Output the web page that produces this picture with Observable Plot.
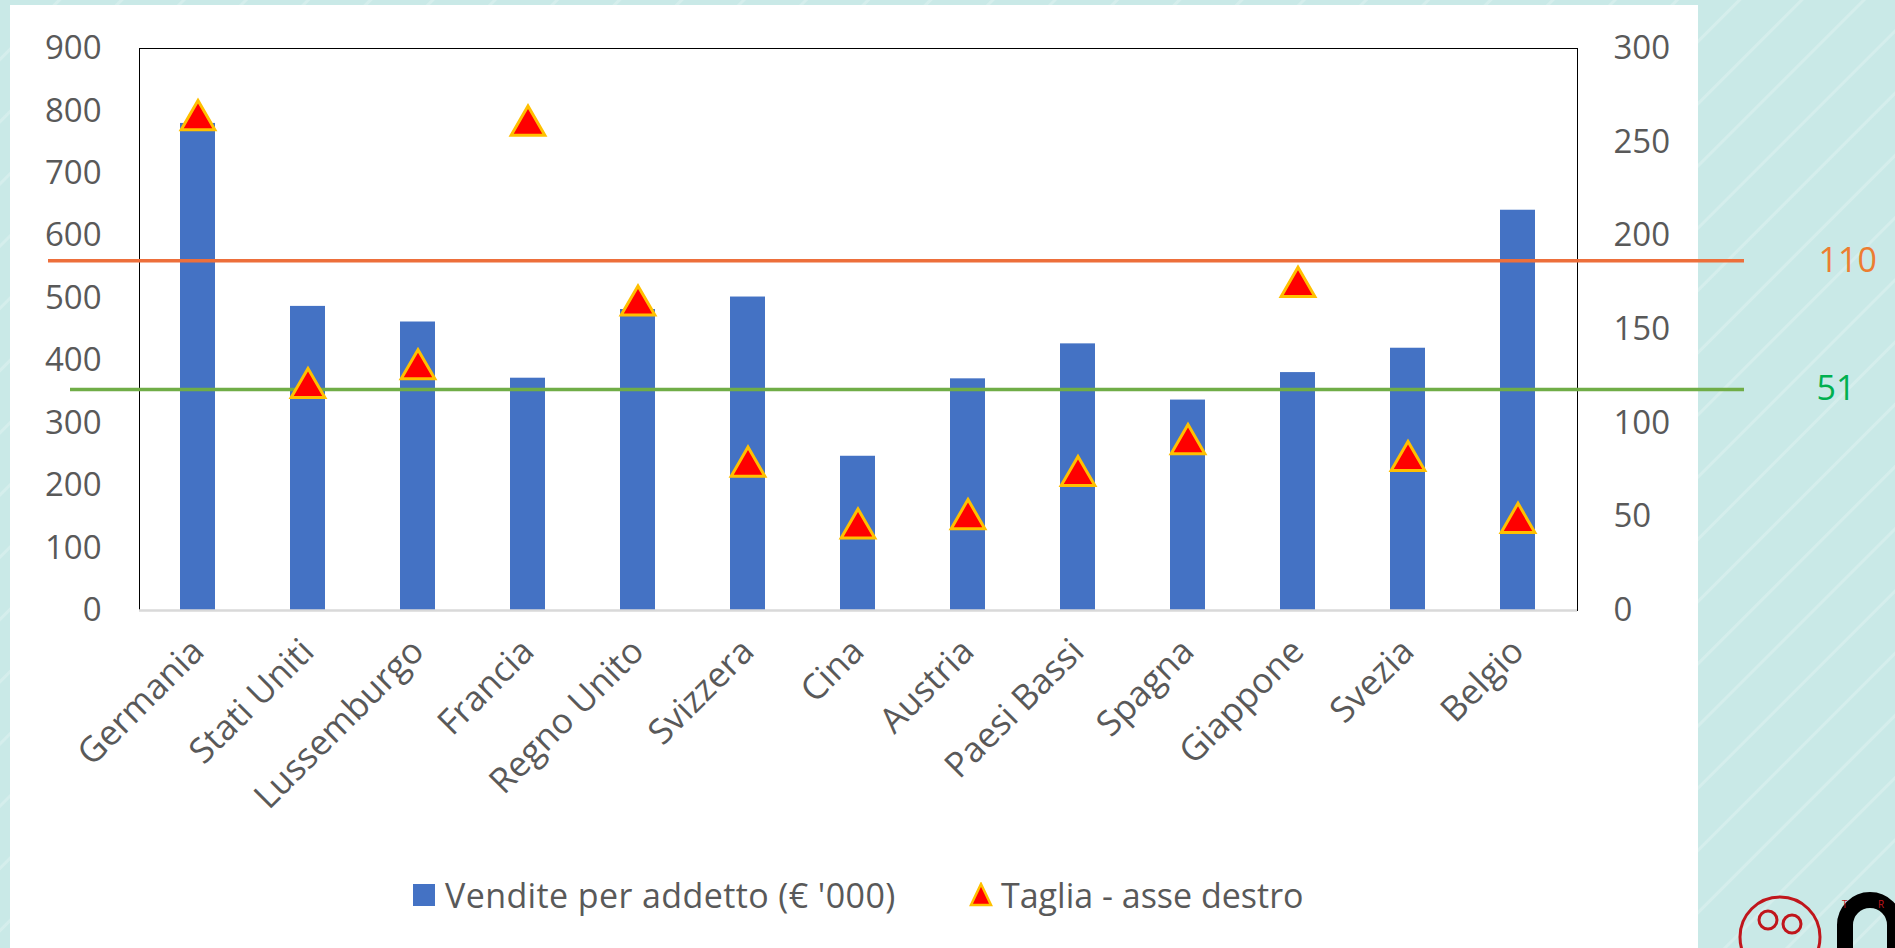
<!DOCTYPE html>
<html>
<head>
<meta charset="utf-8">
<script src="https://cdn.jsdelivr.net/npm/d3@7"></script>
<script src="https://cdn.jsdelivr.net/npm/@observablehq/plot@0.6"></script>
<style>
  html, body { margin: 0; padding: 0; }
  body {
    width: 1895px; height: 948px; overflow: hidden; position: relative;
    font-family: "Open Sans", sans-serif;
    background-color: #c9e9e7;
    background-image: repeating-linear-gradient(135deg, rgba(255,255,255,0) 0px, rgba(255,255,255,0) 40px, rgba(255,255,255,0.22) 41px, rgba(255,255,255,0.22) 43px, rgba(255,255,255,0) 44px);
  }
  #panel { position: absolute; left: 10px; top: 5px; width: 1688px; height: 943px; background: #ffffff; }
  #chart { position: absolute; left: 0; top: 0; }
  #legend {
    position: absolute; left: 0; top: 860px; width: 1895px; height: 70px;
    display: flex; align-items: center; color: #595959; font-size: 34px;
  }
  .item { position: absolute; display: flex; align-items: center; white-space: nowrap; }
  #logo { position: absolute; left: 1720px; top: 880px; }
</style>
</head>
<body>
<div id="panel"></div>
<div id="chart"></div>
<div id="legend"></div>
<svg id="logo" width="175" height="68" viewBox="0 0 175 68">
  <circle cx="60" cy="57" r="40" fill="none" stroke="#c0161c" stroke-width="3"/>
  <circle cx="48" cy="40" r="9" fill="none" stroke="#c0161c" stroke-width="3"/>
  <circle cx="72" cy="44" r="9" fill="none" stroke="#c0161c" stroke-width="3"/>
  <path d="M125 68 V45 A25 25 0 0 1 175 45 V68" fill="none" stroke="#000" stroke-width="16"/>
  <text x="122" y="28" font-size="10" fill="#c0161c" font-family="Open Sans">T</text>
  <text x="158" y="28" font-size="10" fill="#c0161c" font-family="Open Sans">R</text>
</svg>
<script>
const countries = ["Germania","Stati Uniti","Lussemburgo","Francia","Regno Unito","Svizzera","Cina","Austria","Paesi Bassi","Spagna","Giappone","Svezia","Belgio"];
const vendite = [780, 487, 462, 372, 482, 502, 247, 371, 427, 337, 381, 420, 641];
const taglia = [264, 121, 131, 261, 165, 79, 46, 51, 74, 91, 175, 82, 49];
const leftTicks = [0, 100, 200, 300, 400, 500, 600, 700, 800, 900];
const rightTicks = [0, 50, 100, 150, 200, 250, 300];
const refValues = [560, 354];
const refLabels = ["110", "51"];
const seriesNames = ["Vendite per addetto (€ '000)", "Taglia - asse destro"];

const ratio = 900 / 300;
const rows = countries.map((c, i) => ({country: c, vendite: vendite[i], taglia: taglia[i]}));
const refs = refValues.map((v, i) => ({value: v, label: refLabels[i]}));

const textColor = "#595959";
const chart = Plot.plot({
  width: 1895,
  height: 860,
  marginLeft: 139,
  marginRight: 318,
  marginTop: 48,
  marginBottom: 250,
  style: {background: "transparent", fontFamily: "Open Sans, sans-serif", color: textColor, overflow: "visible"},
  x: {domain: countries, paddingInner: 0.68, paddingOuter: 0.34},
  y: {domain: [0, 900]},
  marks: [
    Plot.frame({stroke: "#000", strokeWidth: 1}),
    Plot.barY(rows, {x: "country", y: "vendite", fill: "#4472c4"}),
    Plot.ruleY([0], {stroke: "#d9d9d9", strokeWidth: 2.5}),
    Plot.axisY(leftTicks, {anchor: "left", tickSize: 0, tickPadding: 38, fontSize: 33, fill: textColor, label: null}),
    Plot.axisY(rightTicks.map(v => v * ratio), {anchor: "right", tickSize: 0, tickPadding: 36, fontSize: 33, fill: textColor, label: null, tickFormat: d => String(d / ratio)}),
    Plot.axisX({tickSize: 0, tickRotate: -45, tickPadding: 35, fontSize: 35, fill: textColor, label: null}),
    Plot.ruleY(refs.slice(0, 1), {y: "value", stroke: "#ed6f3b", strokeWidth: 3.5, insetLeft: -91, insetRight: -167}),
    Plot.ruleY(refs.slice(1, 2), {y: "value", stroke: "#70ad47", strokeWidth: 3.5, insetLeft: -69, insetRight: -167}),
    Plot.text(refs.slice(0, 1), {y: "value", text: "label", frameAnchor: "right", textAnchor: "start", dx: 241, fontSize: 34, fill: "#ed7d31"}),
    Plot.text(refs.slice(1, 2), {y: "value", text: "label", frameAnchor: "right", textAnchor: "start", dx: 239, fontSize: 34, fill: "#00b050"}),
    Plot.dot(rows, {x: "country", y: d => d.taglia * ratio, symbol: "triangle", r: 12.5, fill: "#ff0000", stroke: "#ffc000", strokeWidth: 3, dy: 4})
  ]
});
document.getElementById("chart").appendChild(chart);

const legend = document.getElementById("legend");
legend.innerHTML = `
  <div class="item" style="left:413px"><span style="display:inline-block;width:22px;height:22px;background:#4472c4;margin-right:10px"></span><span style="letter-spacing:0.4px">${seriesNames[0]}</span></div>
  <div class="item" style="left:969px"><svg width="24" height="26" style="margin-right:8px" viewBox="0 0 24 26"><path d="M12 2 L22 23 L2 23 Z" fill="#ff0000" stroke="#ffc000" stroke-width="2.5"/></svg>${seriesNames[1]}</div>
`;
</script>
</body>
</html>
